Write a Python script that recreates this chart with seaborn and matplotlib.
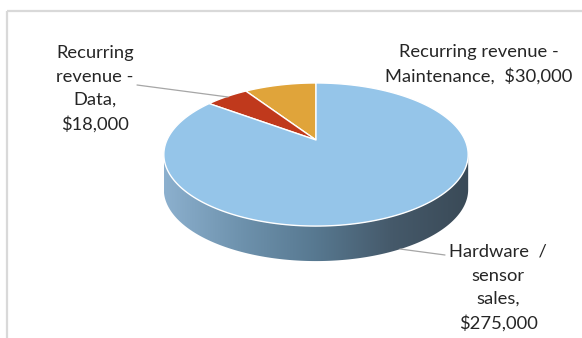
import numpy as np
import matplotlib
matplotlib.use("Agg")
import matplotlib.pyplot as plt
from matplotlib.colors import LinearSegmentedColormap
from matplotlib.patches import Polygon
import seaborn as sns

# Revenue mix
categories = ["Hardware / sensor sales", "Recurring revenue - Data", "Recurring revenue - Maintenance"]
values = [275000, 18000, 30000]
label_texts = ["Hardware  /\nsensor\nsales,\n", "Recurring\nrevenue -\nData,\n", "Recurring revenue -\nMaintenance,  "]
slice_colors = ["#95c5e9", "#c0391c", "#e0a43a"]

sns.set_theme(style="white")
plt.rcParams["font.family"] = ["Lato", "DejaVu Sans"]

W, H = 582, 338
fig = plt.figure(figsize=(W / 100, H / 100), dpi=100)
ax = fig.add_axes([0, 0, 1, 1])
ax.set_xlim(0, W)
ax.set_ylim(H, 0)
ax.axis("off")

# Get slice angles from matplotlib's pie (unit circle), then project onto a tilted disc
tmp = fig.add_axes([0, 0, 0.01, 0.01])
# order so the pie runs counter-clockwise from 12 o'clock: Maintenance, Data, Hardware
order = [2, 1, 0]
wedges, _ = tmp.pie([values[i] for i in order], startangle=90, counterclock=True)
angles = [(w.theta1, w.theta2) for w in wedges]
tmp.remove()

cx, cy = 316.0, 140.0
A, B, k = 149.0, 68.6, 0.203
depth = 35.0


def project(theta_deg, dz=0.0):
    t = np.radians(theta_deg)
    den = 1 + k * np.sin(t)
    x = cx + A * np.cos(t) / den
    y = cy - B * np.sin(t) / den + dz
    return np.column_stack([x, y])


# Side wall (front part of the disc) with a horizontal shading gradient
tl = 180 + np.degrees(np.arcsin(k))
tr = 360 - np.degrees(np.arcsin(k))
th = np.linspace(tl, tr, 200)
top_edge = project(th)
bot_edge = project(th[::-1], depth)
side_poly = Polygon(np.vstack([top_edge, bot_edge]), closed=True,
                    facecolor="none", edgecolor="none")
ax.add_patch(side_poly)
side_cmap = LinearSegmentedColormap.from_list(
    "side", ["#8cb0ce", "#6e92ad", "#577890", "#45596a", "#3a4a57"])
grad = np.linspace(0, 1, 256).reshape(1, -1)
x0, x1 = top_edge[:, 0].min(), top_edge[:, 0].max()
y_bottom = bot_edge[:, 1].max() + 5
img = ax.imshow(grad, cmap=side_cmap, aspect="auto",
                extent=(x0, x1, y_bottom, cy - 5), zorder=1,
                interpolation="bilinear")
img.set_clip_path(side_poly)
ax.set_xlim(0, W)
ax.set_ylim(H, 0)

# Top face slices
for (t1, t2), idx in zip(angles, order):
    arc = project(np.linspace(t1, t2, 200))
    pts = np.vstack([[cx, cy], arc])
    ax.add_patch(Polygon(pts, closed=True, facecolor=slice_colors[idx],
                         edgecolor="white", linewidth=1.0, joinstyle="round",
                         zorder=2))

# Labels
txt_kw = dict(ha="center", va="center", multialignment="center", fontsize=13.2,
              color="#262626", linespacing=1.58, parse_math=False, zorder=4)
ax.text(498, 288, label_texts[0] + f"${values[0]:,}", **txt_kw)
ax.text(95, 89, label_texts[1] + f"${values[1]:,}", **txt_kw)
ax.text(479, 64.5, label_texts[2] + f"${values[2]:,}", **txt_kw)

# Leader lines
ax.plot([137, 228], [85, 97], color="#a6a6a6", lw=0.9, zorder=3)
ax.plot([445, 400], [255, 249], color="#a6a6a6", lw=0.9, zorder=3)

# Chart area frame
ax.plot([7, W], [10.5, 10.5], color="#d9d9d9", lw=1.6, solid_capstyle="butt")
ax.plot([7, 7], [10.5, H], color="#d9d9d9", lw=1.6, solid_capstyle="butt")

fig.savefig("out.png", dpi=100)
